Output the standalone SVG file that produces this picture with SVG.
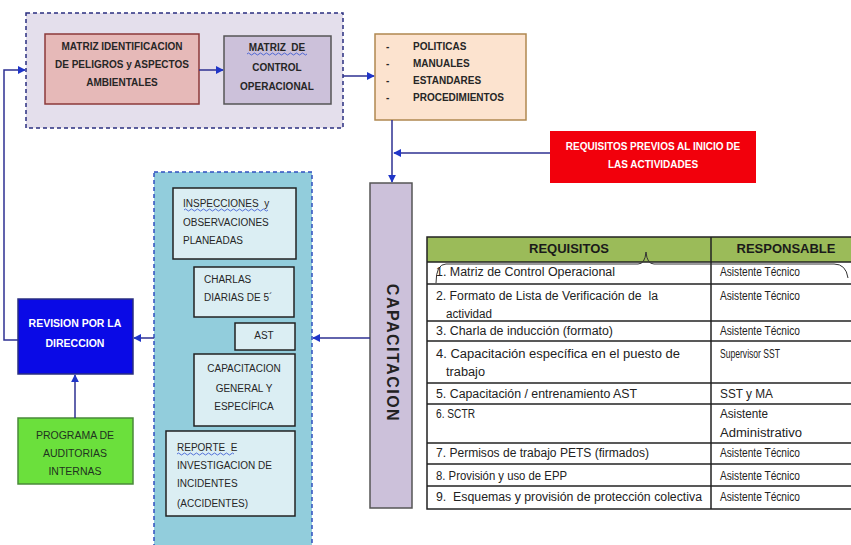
<svg xmlns="http://www.w3.org/2000/svg" width="851" height="545" viewBox="0 0 851 545">
<defs>
<marker id="ah" viewBox="0 0 10 10" refX="9" refY="5" markerWidth="8" markerHeight="8" markerUnits="userSpaceOnUse" orient="auto">
<path d="M0,0 L10,5 L0,10 z" fill="#1f35c8"/>
</marker>
<style>
.b{font-family:"Liberation Sans",Arial,sans-serif;font-weight:bold;font-size:10px;fill:#262626}
.r{font-family:"Liberation Sans",Arial,sans-serif;font-size:10px;fill:#262626}
.t{font-family:"Liberation Sans",Arial,sans-serif;font-size:12.5px;fill:#222}
.t2{font-family:"Liberation Sans",Arial,sans-serif;font-size:12.5px;fill:#222}
.h{font-family:"Liberation Sans",Arial,sans-serif;font-weight:bold;font-size:13px;fill:#1a1a1a}
.w{fill:#fff}
.c{text-anchor:middle}
.in{fill:#dbeef3;stroke:#222;stroke-width:1.5}
.con{fill:none;stroke:#2e3192;stroke-width:1.5}
.wav{fill:none;stroke:#3050d0;stroke-width:0.8}
.row{stroke:#222;stroke-width:1.5}
</style>
</defs>
<rect width="851" height="545" fill="#fff"/>

<g id="grupo-matrices">
<rect x="26" y="13" width="317" height="115" fill="#e4dfec" stroke="#2a2f80" stroke-width="1.5" stroke-dasharray="4,3"/>
</g>
<g id="matriz-peligros">
<rect x="45" y="34" width="154" height="70" fill="#e6b9b8" stroke="#8c3a3a" stroke-width="1.5"/>
<text class="b c" x="122" y="50">MATRIZ IDENTIFICACION</text>
<text class="b c" x="122" y="68">DE PELIGROS y ASPECTOS</text>
<text class="b c" x="122" y="86">AMBIENTALES</text>
</g>
<g id="matriz-control">
<rect x="224" y="36" width="107" height="68" fill="#ccc1da" stroke="#555" stroke-width="1.5"/>
<text class="b c" x="277" y="51" xml:space="preserve">MATRIZ  DE</text>
<path class="wav" d="M247,54 q1.5,-2 3,0 t3,0 t3,0 t3,0 t3,0 t3,0 t3,0 t3,0 t3,0 t3,0 t3,0 t3,0 t3,0 t3,0 t3,0 t3,0 t3,0 t3,0 t3,0 t3,0"/>
<text class="b c" x="277" y="71">CONTROL</text>
<text class="b c" x="277" y="90">OPERACIONAL</text>
</g>
<g id="documentos">
<rect x="375" y="34" width="151" height="86" fill="#fce3cf" stroke="#b08850" stroke-width="1.5"/>
<text class="b" x="386" y="50">-</text><text class="b" x="413" y="50">POLITICAS</text>
<text class="b" x="386" y="67">-</text><text class="b" x="413" y="67">MANUALES</text>
<text class="b" x="386" y="84">-</text><text class="b" x="413" y="84">ESTANDARES</text>
<text class="b" x="386" y="101">-</text><text class="b" x="413" y="101">PROCEDIMIENTOS</text>
</g>
<g id="requisitos-previos">
<rect x="550" y="131" width="206" height="52" fill="#f2000c"/>
<text class="b w c" x="653" y="150">REQUISITOS PREVIOS AL INICIO DE</text>
<text class="b w c" x="653" y="168">LAS ACTIVIDADES</text>
</g>
<g id="capacitacion">
<rect x="370" y="183" width="42" height="325" fill="#ccc1da" stroke="#555" stroke-width="1.5"/>
<text class="b c" transform="translate(387,353) rotate(90)" style="font-size:16px;letter-spacing:1.5px;fill:#222">CAPACITACION</text>
</g>
<g id="actividades">
<rect x="154" y="172" width="158" height="380" fill="#92cddc" stroke="#3050c0" stroke-width="1.5" stroke-dasharray="4,3"/>
</g>
<g id="inspecciones">
<rect class="in" x="173" y="188" width="123" height="71"/>
<text class="r" x="183" y="207" xml:space="preserve">INSPECCIONES  y</text>
<path class="wav" d="M184,210 q1.5,-2 3,0 t3,0 t3,0 t3,0 t3,0 t3,0 t3,0 t3,0 t3,0 t3,0 t3,0 t3,0 t3,0 t3,0 t3,0 t3,0 t3,0 t3,0 t3,0 t3,0 t3,0 t3,0 t3,0 t3,0 t3,0 t3,0 t3,0 t3,0"/>
<text class="r" x="183" y="226">OBSERVACIONES</text>
<text class="r" x="183" y="244">PLANEADAS</text>
</g>
<g id="charlas">
<rect class="in" x="194" y="267" width="100" height="50"/>
<text class="r" x="204" y="283">CHARLAS</text>
<text class="r" x="204" y="301">DIARIAS DE 5´</text>
</g>
<g id="ast">
<rect class="in" x="235" y="323" width="60" height="27"/>
<text class="r c" x="264" y="339">AST</text>
</g>
<g id="capacitacion-general">
<rect class="in" x="194" y="354" width="101" height="72"/>
<text class="r c" x="244" y="372">CAPACITACION</text>
<text class="r c" x="244" y="392">GENERAL Y</text>
<text class="r c" x="244" y="410">ESPECÍFICA</text>
</g>
<g id="reporte">
<rect class="in" x="166" y="431" width="129" height="85"/>
<text class="r" x="177" y="451" xml:space="preserve">REPORTE  E</text>
<path class="wav" d="M177,454 q1.5,-2 3,0 t3,0 t3,0 t3,0 t3,0 t3,0 t3,0 t3,0 t3,0 t3,0 t3,0 t3,0 t3,0 t3,0 t3,0 t3,0 t3,0 t3,0 t3,0"/>
<text class="r" x="177" y="469">INVESTIGACION DE</text>
<text class="r" x="177" y="487">INCIDENTES</text>
<text class="r" x="177" y="507">(ACCIDENTES)</text>
</g>
<g id="revision">
<rect x="18" y="299" width="115" height="75" fill="#0a0ae6" stroke="#2a2f80" stroke-width="1.5"/>
<text class="b w c" x="75" y="327" style="font-size:10.5px">REVISION POR LA</text>
<text class="b w c" x="75" y="347" style="font-size:10.5px">DIRECCION</text>
</g>
<g id="auditorias">
<rect x="18" y="418" width="115" height="66" fill="#6be03c" stroke="#4a8a3a" stroke-width="1.5"/>
<text class="r c" x="75" y="439" style="font-size:10.5px;fill:#1f3320">PROGRAMA DE</text>
<text class="r c" x="75" y="457" style="font-size:10.5px;fill:#1f3320">AUDITORIAS</text>
<text class="r c" x="75" y="475" style="font-size:10.5px;fill:#1f3320">INTERNAS</text>
</g>

<g id="connectors">
<path class="con" d="M18,340 H4 V70 H25" marker-end="url(#ah)"/>
<path class="con" d="M199,70 H223" marker-end="url(#ah)"/>
<path class="con" d="M343,76 H374" marker-end="url(#ah)"/>
<path class="con" d="M392,120 V182" marker-end="url(#ah)"/>
<path class="con" d="M550,153 H394" marker-end="url(#ah)"/>
<path class="con" d="M370,338 H313" marker-end="url(#ah)"/>
<path class="con" d="M154,338 H134" marker-end="url(#ah)"/>
<path class="con" d="M75,418 V375" marker-end="url(#ah)"/>
</g>

<g id="tabla">
<rect x="427" y="237" width="430" height="25" fill="#9bbb59"/>
<rect x="427" y="237" width="430" height="272" fill="none" stroke="#222" stroke-width="1.5"/>
<line class="row" x1="711" y1="237" x2="711" y2="509"/>
<line class="row" x1="427" y1="262" x2="857" y2="262"/>
<line class="row" x1="427" y1="284" x2="857" y2="284"/>
<line class="row" x1="427" y1="321" x2="857" y2="321"/>
<line class="row" x1="427" y1="341" x2="857" y2="341"/>
<line class="row" x1="427" y1="383" x2="857" y2="383"/>
<line class="row" x1="427" y1="404" x2="857" y2="404"/>
<line class="row" x1="427" y1="443" x2="857" y2="443"/>
<line class="row" x1="427" y1="464" x2="857" y2="464"/>
<line class="row" x1="427" y1="486" x2="857" y2="486"/>
<text class="h c" x="569" y="253">REQUISITOS</text>
<text class="h c" x="786" y="253">RESPONSABLE</text>
<path d="M436,283 Q436,264 446,264 H638 Q645,264 646,252 Q647,264 654,264 H834 Q846,264 848,278" fill="none" stroke="#333" stroke-width="1"/>
<text class="t" x="436" y="276" textLength="179" lengthAdjust="spacingAndGlyphs">1. Matriz de Control Operacional</text>
<text class="t2" x="720" y="276" textLength="80" lengthAdjust="spacingAndGlyphs">Asistente Técnico</text>
<text class="t" x="436" y="300" textLength="222" lengthAdjust="spacingAndGlyphs" xml:space="preserve">2. Formato de Lista de Verificación de  la</text>
<text class="t" x="446" y="318" textLength="46" lengthAdjust="spacingAndGlyphs">actividad</text>
<text class="t2" x="720" y="300" textLength="80" lengthAdjust="spacingAndGlyphs">Asistente Técnico</text>
<text class="t" x="436" y="335" textLength="177" lengthAdjust="spacingAndGlyphs">3. Charla de inducción (formato)</text>
<text class="t2" x="720" y="335" textLength="80" lengthAdjust="spacingAndGlyphs">Asistente Técnico</text>
<text class="t" x="436" y="358" textLength="244" lengthAdjust="spacingAndGlyphs">4. Capacitación específica en el puesto de</text>
<text class="t" x="446" y="376" textLength="39" lengthAdjust="spacingAndGlyphs">trabajo</text>
<text class="t2" x="720" y="358" textLength="60" lengthAdjust="spacingAndGlyphs">Supervisor SST</text>
<text class="t" x="436" y="398" textLength="201" lengthAdjust="spacingAndGlyphs">5. Capacitación / entrenamiento AST</text>
<text class="t2" x="720" y="398" textLength="53" lengthAdjust="spacingAndGlyphs">SST y MA</text>
<text class="t" x="436" y="418" textLength="39" lengthAdjust="spacingAndGlyphs">6. SCTR</text>
<text class="t2" x="720" y="418" textLength="48" lengthAdjust="spacingAndGlyphs">Asistente</text>
<text class="t2" x="720" y="437" textLength="82" lengthAdjust="spacingAndGlyphs">Administrativo</text>
<text class="t" x="436" y="457" textLength="213" lengthAdjust="spacingAndGlyphs">7. Permisos de trabajo PETS (firmados)</text>
<text class="t2" x="720" y="457" textLength="80" lengthAdjust="spacingAndGlyphs">Asistente Técnico</text>
<text class="t" x="436" y="480" textLength="131" lengthAdjust="spacingAndGlyphs">8. Provisión y uso de EPP</text>
<text class="t2" x="720" y="480" textLength="80" lengthAdjust="spacingAndGlyphs">Asistente Técnico</text>
<text class="t" x="436" y="501" textLength="266" lengthAdjust="spacingAndGlyphs" xml:space="preserve">9.  Esquemas y provisión de protección colectiva</text>
<text class="t2" x="720" y="501" textLength="80" lengthAdjust="spacingAndGlyphs">Asistente Técnico</text>
</g>
</svg>
